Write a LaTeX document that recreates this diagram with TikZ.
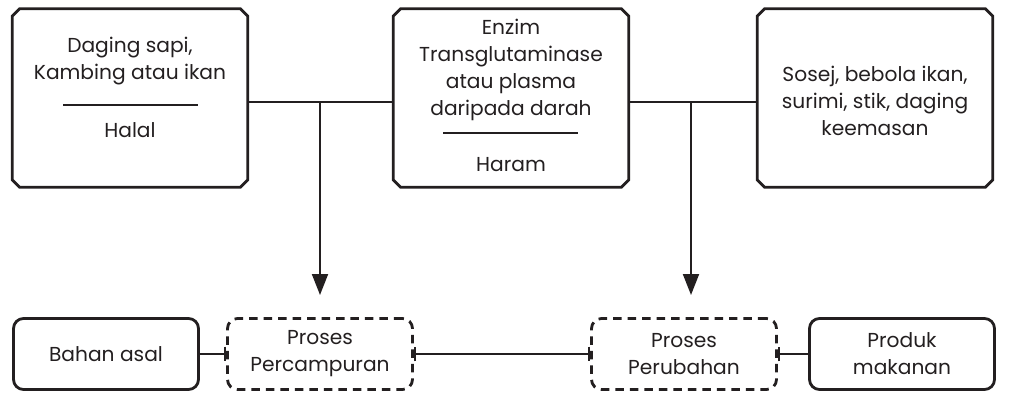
\documentclass[tikz,border=0pt]{standalone}
\usepackage{fontspec}
\setmainfont{Poppins}
\usetikzlibrary{arrows.meta}
\definecolor{ink}{HTML}{231F20}

\begin{document}
\begin{tikzpicture}[x=0.02cm, y=-0.02cm, ink,
    font=\fontsize{11.5}{15.3}\selectfont,
    topbox/.style={minimum width=4.7cm, minimum height=3.56cm, inner sep=0pt},
    basebox/.style={draw, line width=1.6pt, rounded corners=0.2cm,
      minimum width=3.7cm, minimum height=1.42cm, align=center},
    procbox/.style={basebox, dash pattern=on 0.17cm off 0.12cm},
    label/.style={align=center, inner sep=0pt},
    link/.style={line width=1.1pt}
  ]
  \useasboundingbox (0,0) rectangle (1011,405);

  % Define nodes
  \node[topbox] (meat) at (130,98) {};
  \node[label] (meatname) at (130,61) {Daging sapi,\\Kambing atau ikan};
  \node[label] (halal) at (130,130) {Halal};
  \draw[link] (63,105) -- (198,105);

  \node[topbox] (enzyme) at (511,98) {};
  \node[label] (enzymename) at (511,70) {Enzim\\Transglutaminase\\atau plasma\\daripada darah};
  \node[label] (haram) at (511,165) {Haram};
  \draw[link] (443,133) -- (578,133);

  \node[topbox] (food) at (875,98) {};
  \node[label] (foodname) at (875,101) {Sosej, bebola ikan,\\surimi, stik, daging\\keemasan};

  % cut corners of the top boxes
  \foreach \b in {meat,enzyme,food}
    \draw[line width=1.6pt]
      ([xshift=0.15cm]\b.north west) -- ([xshift=-0.15cm]\b.north east)
      -- ([yshift=-0.15cm]\b.north east) -- ([yshift=0.15cm]\b.south east)
      -- ([xshift=-0.15cm]\b.south east) -- ([xshift=0.15cm]\b.south west)
      -- ([yshift=0.15cm]\b.south west) -- ([yshift=-0.15cm]\b.north west)
      -- cycle;

  \node[basebox] (source) at (106,354) {Bahan asal};
  \node[procbox] (mixing) at (320,354) {Proses\\Percampuran};
  \node[procbox] (change) at (684,354) {Proses\\Perubahan};
  \node[basebox] (product) at (902,354) {Produk\\makanan};

  \coordinate (mixjoin) at (320,102);
  \coordinate (changejoin) at (691,102);

  % Connect the nodes
  \draw[link] (meat.east |- mixjoin) -- (enzyme.west |- mixjoin);
  \draw[link] (enzyme.east |- changejoin) -- (food.west |- changejoin);
  \draw[link, -{Triangle[width=0.32cm, length=0.42cm]}] (mixjoin) -- (320,295);
  \draw[link, -{Triangle[width=0.32cm, length=0.42cm]}] (changejoin) -- (691,295);
  \draw[link, -{Bar[width=0.3cm]}] (source) -- (mixing);
  \draw[link, {Bar[width=0.3cm]}-{Bar[width=0.3cm]}] (mixing) -- (change);
  \draw[link, {Bar[width=0.3cm]}-] (change) -- (product);
\end{tikzpicture}
\end{document}
